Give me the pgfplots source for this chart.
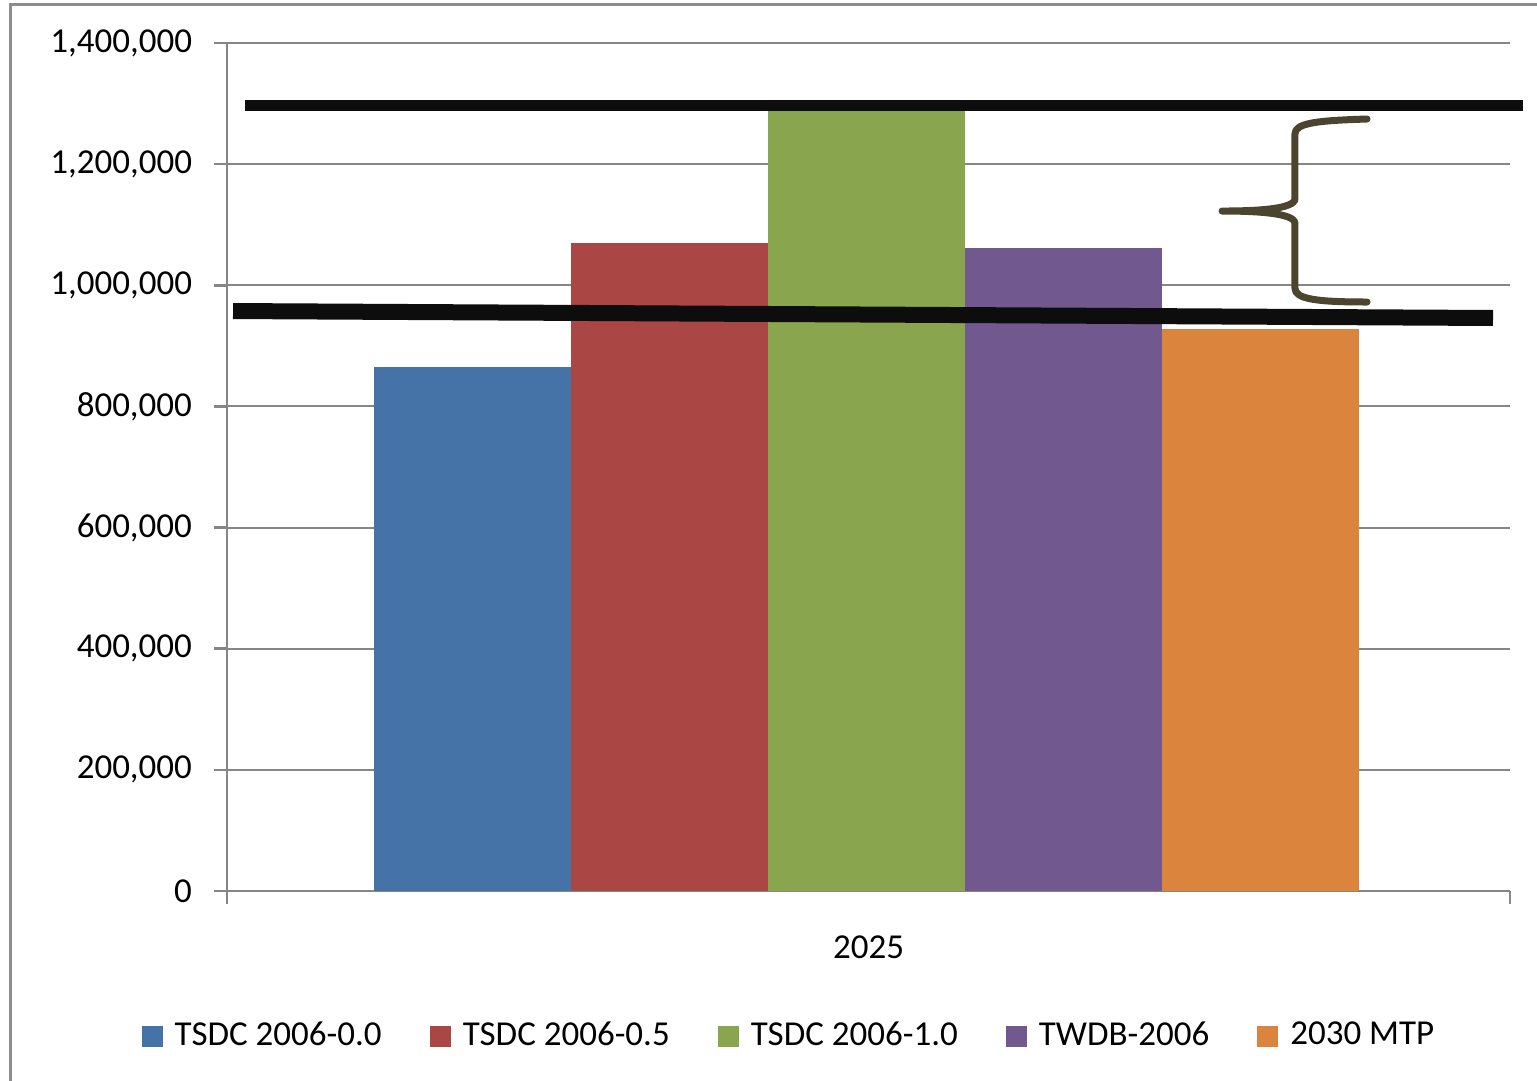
\documentclass[border=0pt]{standalone}
\usepackage{pgfplots}
\pgfplotsset{compat=1.18}
\usepackage{fontspec}
\setmainfont{Carlito}

\definecolor{serA}{HTML}{4572A7}
\definecolor{serB}{HTML}{AA4643}
\definecolor{serC}{HTML}{89A54E}
\definecolor{serD}{HTML}{71588F}
\definecolor{serE}{HTML}{DB843D}
\definecolor{axisgray}{HTML}{868686}
\definecolor{framegray}{HTML}{8C8C8C}
\definecolor{markline}{HTML}{0D0D0D}
\definecolor{bracecol}{HTML}{4B4530}

\newcommand\chartfont{\fontsize{17.5pt}{21pt}\selectfont}

\begin{document}
\chartfont
\begin{tikzpicture}
\useasboundingbox (0pt,0pt) rectangle (768.5pt,-540.5pt);
% outer chart frame
\draw[color=framegray, line width=1.5pt] (5.25pt,-541pt) -- (5.25pt,-2.5pt) -- (769pt,-2.5pt);
\begin{axis}[
  at={(113.5pt,-445.5pt)}, anchor=south west,
  scale only axis, width=641.5pt, height=424pt,
  xmin=-1, xmax=1, ymin=0, ymax=1400000,
  axis x line*=bottom, axis y line*=left,
  axis line style={color=axisgray, line width=1.3pt},
  xtick={-1,1}, xticklabels={},
  xlabel={2025},
  xlabel style={at={(axis description cs:0.5,-0.066)}, anchor=center, font=\chartfont},
  ytick={0,200000,...,1400000},
  scaled y ticks=false,
  yticklabel style={xshift=-5pt, /pgf/number format/.cd, fixed, 1000 sep={,}, assume math mode=true},
  tick label style={font=\chartfont, color=black},
  tick align=outside,
  major tick length=6.5pt,
  tick style={color=axisgray, line width=1.3pt},
  ymajorgrids,
  grid style={color=axisgray, line width=1pt},
  clip=false,
  legend columns=5,
  legend style={at={(0.4388,-0.171)}, anchor=center, draw=none, fill=none,
    font=\chartfont, /tikz/every even column/.append style={column sep=22pt},
    /tikz/every odd column/.append style={column sep=4pt}},
  legend image code/.code={\fill[#1] (0pt,-5.25pt) rectangle (10.5pt,5.25pt);},
]
% population projections for 2025, one bar per source
\addplot[ybar, bar width=0.3071, bar shift=0pt, fill=serA, draw=none] coordinates {(-0.6173,865000)};
\addlegendentry{TSDC 2006-0.0}
\addplot[ybar, bar width=0.3071, bar shift=0pt, fill=serB, draw=none] coordinates {(-0.3102,1070000)};
\addlegendentry{TSDC 2006-0.5}
\addplot[ybar, bar width=0.3071, bar shift=0pt, fill=serC, draw=none] coordinates {(-0.0031,1292000)};
\addlegendentry{TSDC 2006-1.0}
\addplot[ybar, bar width=0.3071, bar shift=0pt, fill=serD, draw=none] coordinates {(0.3040,1062000)};
\addlegendentry{TWDB-2006}
\addplot[ybar, bar width=0.3071, bar shift=0pt, fill=serE, draw=none] coordinates {(0.6111,927500)};
\addlegendentry{2030 MTP}

% high and low bounding lines
\addplot[forget plot, color=markline, line width=5.5pt, line cap=butt] coordinates {(-0.972,1297000) (1.0203,1297000)};
\addplot[forget plot, color=markline, line width=8pt, line cap=butt] coordinates {(-0.9906,957500) (0.9735,946000)};

% brace spanning the range between the two lines
\draw[color=bracecol, line width=3.5pt, line cap=round, line join=round]
  (axis cs:0.7771,1274500) .. controls (axis cs:0.70,1272000) and (axis cs:0.6648,1268000) .. (axis cs:0.6648,1250000)
  -- (axis cs:0.6648,1143000)
  .. controls (axis cs:0.6648,1125000) and (axis cs:0.60,1122600) .. (axis cs:0.5511,1122600)
  .. controls (axis cs:0.60,1122600) and (axis cs:0.6648,1120000) .. (axis cs:0.6648,1102000)
  -- (axis cs:0.6648,995000)
  .. controls (axis cs:0.6648,977000) and (axis cs:0.70,972400) .. (axis cs:0.7771,972400);
\end{axis}
\end{tikzpicture}
\end{document}
